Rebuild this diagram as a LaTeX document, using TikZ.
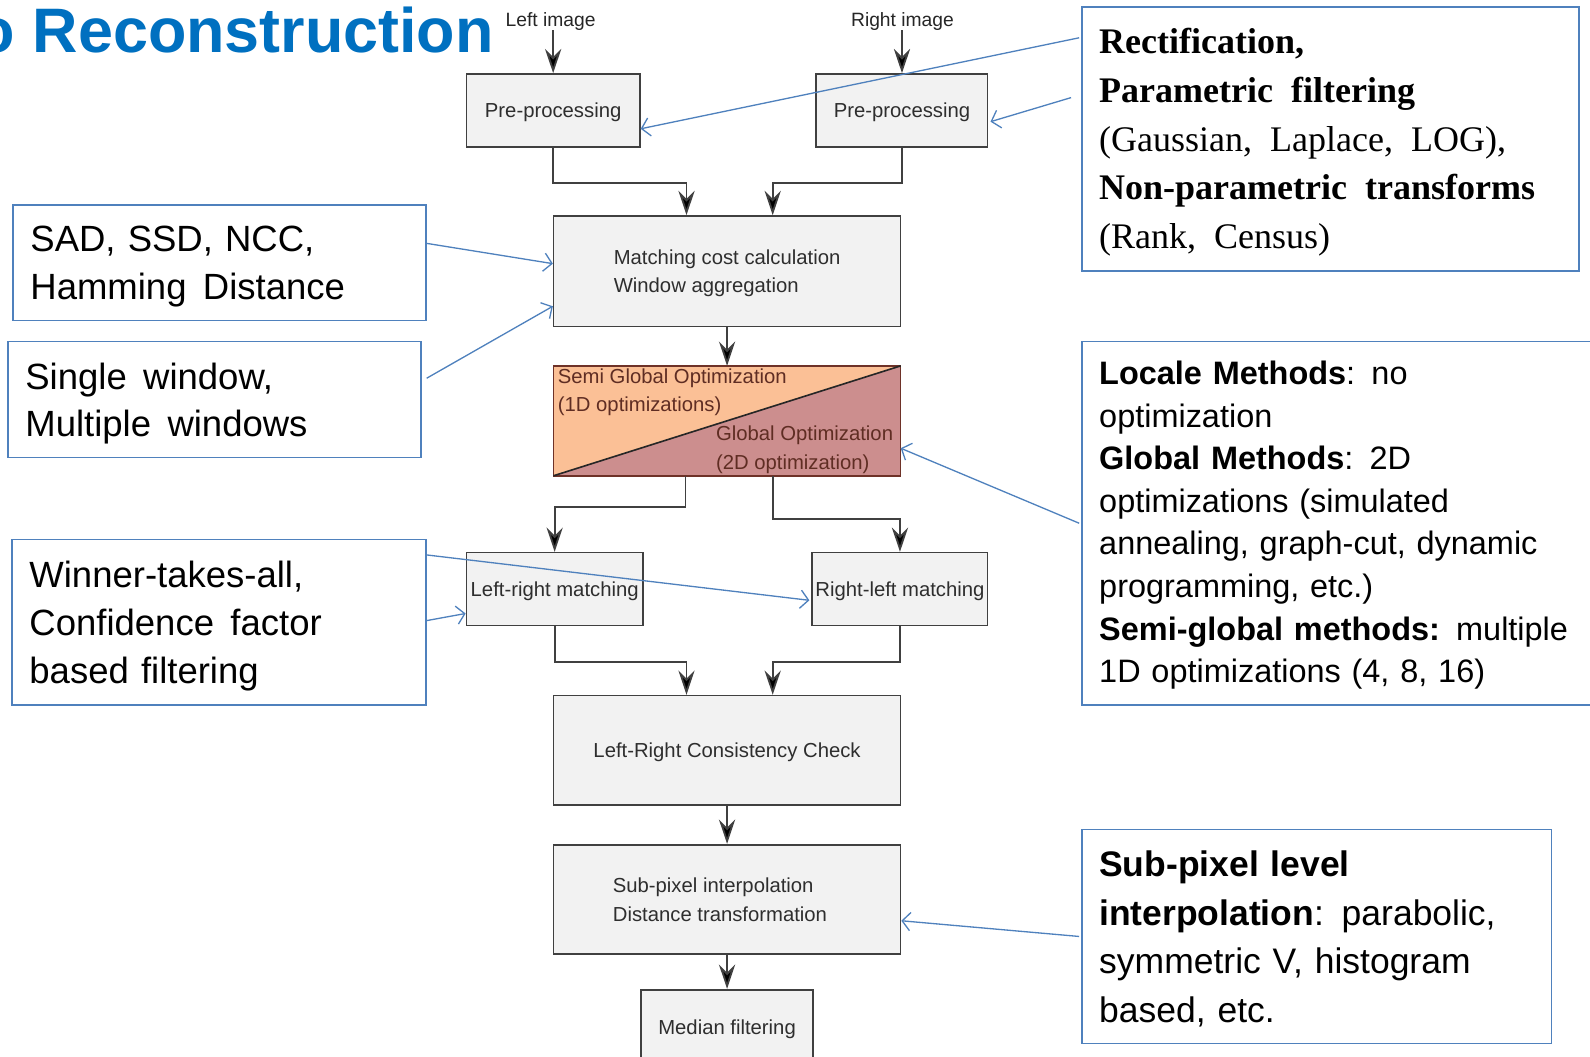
\documentclass[tikz,border=0pt]{standalone}
\usepackage{fontspec}
\setmainfont{Liberation Sans}
\newfontfamily\serifx{Liberation Serif}
\usetikzlibrary{arrows.meta}
\definecolor{titleblue}{RGB}{0,112,192}
\definecolor{annblue}{RGB}{79,129,189}
\definecolor{boxfill}{RGB}{242,242,242}
\definecolor{boxline}{RGB}{64,64,64}
\definecolor{semiorange}{RGB}{251,192,150}
\definecolor{globalmauve}{RGB}{204,142,142}
\definecolor{optline}{RGB}{110,50,40}
\definecolor{opttext}{RGB}{95,45,35}
\begin{document}
\begin{tikzpicture}[x=1pt,y=-1pt,
  flowbox/.style={draw=boxline, line width=1.6pt, fill=boxfill, inner sep=0pt,
    font=\fontsize{20}{28}\selectfont, text=black!82, align=left, text depth=0pt},
  flow/.style={draw=boxline, line width=1.8pt, -{Stealth[length=24pt,width=16pt,inset=8pt,fill=black]}},
  annbox/.style={draw=annblue, line width=1.5pt, inner sep=0pt},
  anntext/.style={inner sep=0pt, align=left},
  note/.style={draw=annblue, line width=1.3pt, -{Straight Barb[length=8pt,width=18pt]}},
  lbl/.style={inner sep=0pt, font=\fontsize{19}{24}\selectfont, text=black!85}
]
\useasboundingbox (0,0) rectangle (1568,1042);

% title
\node[anchor=base west, inner sep=0pt, font=\fontsize{62}{70}\selectfont\bfseries, text=titleblue] (title) at (-23,52) {o Reconstruction};

% input labels
\node[lbl] (limg) at (543,21) {Left image};
\node[lbl] (rimg) at (890,21) {Right image};

% flow boxes
\node[flowbox, minimum width=171pt, minimum height=72pt] (lpre) at (545.5,109) {Pre-processing};
\node[flowbox, minimum width=169pt, minimum height=72pt] (rpre) at (889.5,109) {Pre-processing};
\node[flowbox, minimum width=342pt, minimum height=109pt] (match) at (717,267.5) {Matching cost calculation\\Window aggregation};
\node[minimum width=342pt, minimum height=108pt, inner sep=0pt] (opt) at (717,415) {};
\node[flowbox, minimum width=174pt, minimum height=72pt] (lrm) at (547,581) {Left-right matching};
\node[flowbox, minimum width=173pt, minimum height=72pt] (rlm) at (887.5,581) {Right-left matching};
\node[flowbox, minimum width=342pt, minimum height=108pt] (cons) at (717,740) {Left-Right Consistency Check};
\node[flowbox, minimum width=342pt, minimum height=108pt] (sub) at (717,887) {Sub-pixel interpolation\\Distance transformation\hspace*{14pt}};
\node[flowbox, minimum width=170pt, minimum height=74pt] (med) at (717,1013) {Median filtering};

% optimization box (split)
\fill[semiorange] (opt.north west) -- (opt.north east) -- (opt.south west) -- cycle;
\fill[globalmauve] (opt.north east) -- (opt.south east) -- (opt.south west) -- cycle;
\draw[optline, line width=1.6pt] (opt.north west) rectangle (opt.south east);
\draw[black!85, line width=1.6pt] (opt.south west) -- (opt.north east);
\node[anchor=north west, inner sep=0pt, align=left, font=\fontsize{20}{28}\selectfont, text=opttext] (semitxt) at (550,363) {Semi Global Optimization\\(1D optimizations)};
\node[anchor=north west, inner sep=0pt, align=left, font=\fontsize{20}{28}\selectfont, text=opttext] (globtxt) at (706,420) {Global Optimization\\(2D optimization)};

% flow connectors
\draw[flow] (lpre.north |- limg.south) -- (lpre.north);
\draw[flow] (rpre.north |- rimg.south) -- (rpre.north);
\draw[flow] (lpre.south) -- ++(0,35) -| ([xshift=-40pt]match.north);
\draw[flow] (rpre.south) -- ++(0,35) -| ([xshift=45pt]match.north);
\draw[flow] (match.south) -- (opt.north);
\draw[flow] ([xshift=-41pt]opt.south) -- ++(0,31) -| (lrm.north);
\draw[flow] ([xshift=45pt]opt.south) -- ++(0,43) -| (rlm.north);
\draw[flow] (lrm.south) -- ++(0,35) -| ([xshift=-40pt]cons.north);
\draw[flow] (rlm.south) -- ++(0,35) -| ([xshift=45pt]cons.north);
\draw[flow] (cons.south) -- (sub.north);
\draw[flow] (sub.south) -- (med.north);

% annotation boxes
\node[annbox, minimum width=407pt, minimum height=114pt] (ann1) at (216.5,259) {};
\node[anntext, text width=373pt, font=\fontsize{36}{47}\selectfont] (ann1t) at ([yshift=-4pt]ann1.center) {SAD, SSD, NCC,\\Hamming\hspace{0.45em}Distance};
\node[annbox, minimum width=407pt, minimum height=114pt] (ann2) at (211.5,394) {};
\node[anntext, text width=373pt, font=\fontsize{36}{47}\selectfont] (ann2t) at ([yshift=-4pt]ann2.center) {Single\hspace{0.45em}window,\\Multiple\hspace{0.45em}windows};
\node[annbox, minimum width=408pt, minimum height=163pt] (ann3) at (216,613.5) {};
\node[anntext, text width=374pt, font=\fontsize{36}{47}\selectfont] (ann3t) at ([yshift=-4pt]ann3.center) {Winner-takes-all,\\Confidence\hspace{0.45em}factor\\based filtering};
\node[annbox, minimum width=490pt, minimum height=260pt] (ann4) at (1312,137) {};
\node[anntext, text width=456pt, font=\serifx\fontsize{35.5}{48}\selectfont] (ann4t) at ([yshift=-3.5pt]ann4.center) {\textbf{Rectification,}\\\textbf{Parametric\hspace{0.5em}filtering}\\(Gaussian,\hspace{0.5em}Laplace,\hspace{0.5em}LOG),\\\textbf{Non-parametric\hspace{0.5em}transforms}\\(Rank,\hspace{0.5em}Census)};
\node[annbox, minimum width=533pt, minimum height=358pt] (ann5) at (1333.5,516) {};
\node[anntext, text width=499pt, font=\fontsize{32}{42}\selectfont] (ann5t) at ([yshift=-2pt]ann5.center) {\textbf{Locale Methods}: no\\optimization\\\textbf{Global Methods}: 2D\\optimizations (simulated\\annealing,\ graph-cut,\ dynamic\\programming, etc.)\\\textbf{Semi-global methods:} multiple\\1D optimizations (4, 8, 16)};
\node[annbox, minimum width=463pt, minimum height=211pt] (ann6) at (1298.5,923.5) {};
\node[anntext, text width=429pt, font=\fontsize{35}{48}\selectfont] (ann6t) at ([yshift=-2.5pt]ann6.center) {\textbf{Sub-pixel level}\\\textbf{interpolation}: parabolic,\\symmetric V, histogram\\based, etc.};

% annotation connectors
\draw[note] ([yshift=-31pt,xshift=-2pt]ann4.north west) -- ([yshift=-18pt]lpre.east);
\draw[note] ([yshift=-90pt,xshift=-10pt]ann4.north west) -- ([yshift=-11pt,xshift=2pt]rpre.east);
\draw[note] ([yshift=19pt]ann1.east) -- ([yshift=7.5pt]match.west);
\draw[note] ([yshift=21pt,xshift=5pt]ann2.east) -- ([yshift=-34.5pt]match.west);
\draw[note] ([xshift=-2pt]ann5.west) -- ([yshift=-27pt]opt.east);
\draw[note] ([yshift=-16pt]ann3.north east) -- ([yshift=-11pt,xshift=-2pt]rlm.west);
\draw[note] ([yshift=1.5pt]ann3.east) -- ([yshift=-24pt]lrm.west);
\draw[note] ([xshift=-2pt]ann6.west) -- ([yshift=-21pt]sub.east);
\end{tikzpicture}
\end{document}
